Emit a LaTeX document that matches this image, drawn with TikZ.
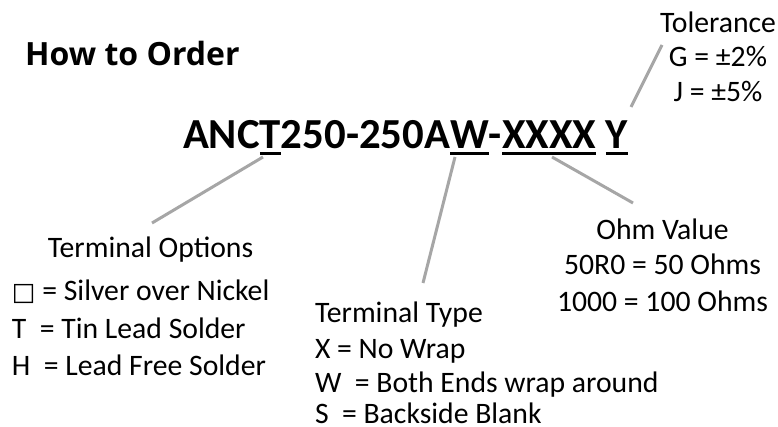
\documentclass[tikz,border=0pt]{standalone}
\usepackage{fontspec}
\setmainfont{Carlito}
\newfontfamily\headfont{Open Sans}
\newfontfamily\symfont{DejaVu Sans}
\definecolor{conngray}{HTML}{A6A6A6}
\tikzset{
  txt/.style={inner sep=0pt, outer sep=0pt, font=\fontsize{29.7}{35}\selectfont},
  ttl/.style={inner sep=0pt, outer sep=0pt, anchor=base west, font=\bfseries\fontsize{42.8}{50}\selectfont},
  conn/.style={draw=conngray, line width=3pt},
  uline/.style={draw=black, line width=2.6pt}
}
\begin{document}
\begin{tikzpicture}[x=1pt,y=-1pt]
\useasboundingbox (0,0) rectangle (778,427);
% heading
\node[inner sep=0pt, anchor=base west, font=\headfont\bfseries\fontsize{32}{38}\selectfont] (head) at (25,66) {How to Order};
% part number
\node[ttl] (p1) at (183,149) {ANC};
\node[ttl] (pt) at (p1.base east) {T};
\node[ttl] (p2) at (pt.base east) {250-250A};
\node[ttl] (pw) at (p2.base east) {W};
\node[ttl] (p3) at (pw.base east) {-};
\node[ttl] (px) at (p3.base east) {XXXX};
\node[ttl] (py) at ([xshift=9.5pt]px.base east) {Y};
\draw[uline] ([yshift=-4.5pt]pt.base west) -- ([yshift=-4.5pt]pt.base east);
\draw[uline] ([yshift=-4.5pt]pw.base west) -- ([yshift=-4.5pt]pw.base east);
\draw[uline] ([yshift=-4.5pt]px.base west) -- ([yshift=-4.5pt]px.base east);
\draw[uline] ([yshift=-4.5pt]py.base west) -- ([yshift=-4.5pt]py.base east);
% tolerance
\node[txt, anchor=base] (tol) at (718,33) {Tolerance};
\node[txt, anchor=base] (tolg) at (718,67) {G = ±2\%};
\node[txt, anchor=base] (tolj) at (718,102) {J = ±5\%};
% ohm value
\node[txt, anchor=base] (ohm) at (662.5,240) {Ohm Value};
\node[txt, anchor=base] (ohma) at (662.5,275) {50R0 = 50 Ohms};
\node[txt, anchor=base] (ohmb) at (662.5,312) {1000 = 100 Ohms};
% terminal options
\node[txt, anchor=base] (topt) at (150.5,258) {Terminal Options};
\node[txt, anchor=base west] (topta) at (12,300) {{\symfont\fontsize{25}{28}\selectfont □} = Silver over Nickel};
\node[txt, anchor=base west] (toptb) at (12,338) {T\ \ = Tin Lead Solder};
\node[txt, anchor=base west] (toptc) at (12,375) {H\ \ = Lead Free Solder};
% terminal type
\node[txt, anchor=base west] (ttyp) at (315,322) {Terminal Type};
\node[txt, anchor=base west] (ttypa) at (315,358) {X = No Wrap};
\node[txt, anchor=base west] (ttypb) at (315,392) {W\ \ = Both Ends wrap around};
\node[txt, anchor=base west] (ttypc) at (315,423) {S\ \ = Backside Blank};
% connectors
\coordinate (c1a) at (263,157); \coordinate (c1b) at (152,223);
\coordinate (c2a) at (455,157); \coordinate (c2b) at (423,283);
\coordinate (c3a) at (552,157); \coordinate (c3b) at (633,203);
\coordinate (c4a) at (631,107); \coordinate (c4b) at (662,45);
\draw[conn] (c1a) -- (c1b);
\draw[conn] (c2a) -- (c2b);
\draw[conn] (c3a) -- (c3b);
\draw[conn] (c4a) -- (c4b);
\end{tikzpicture}
\end{document}
